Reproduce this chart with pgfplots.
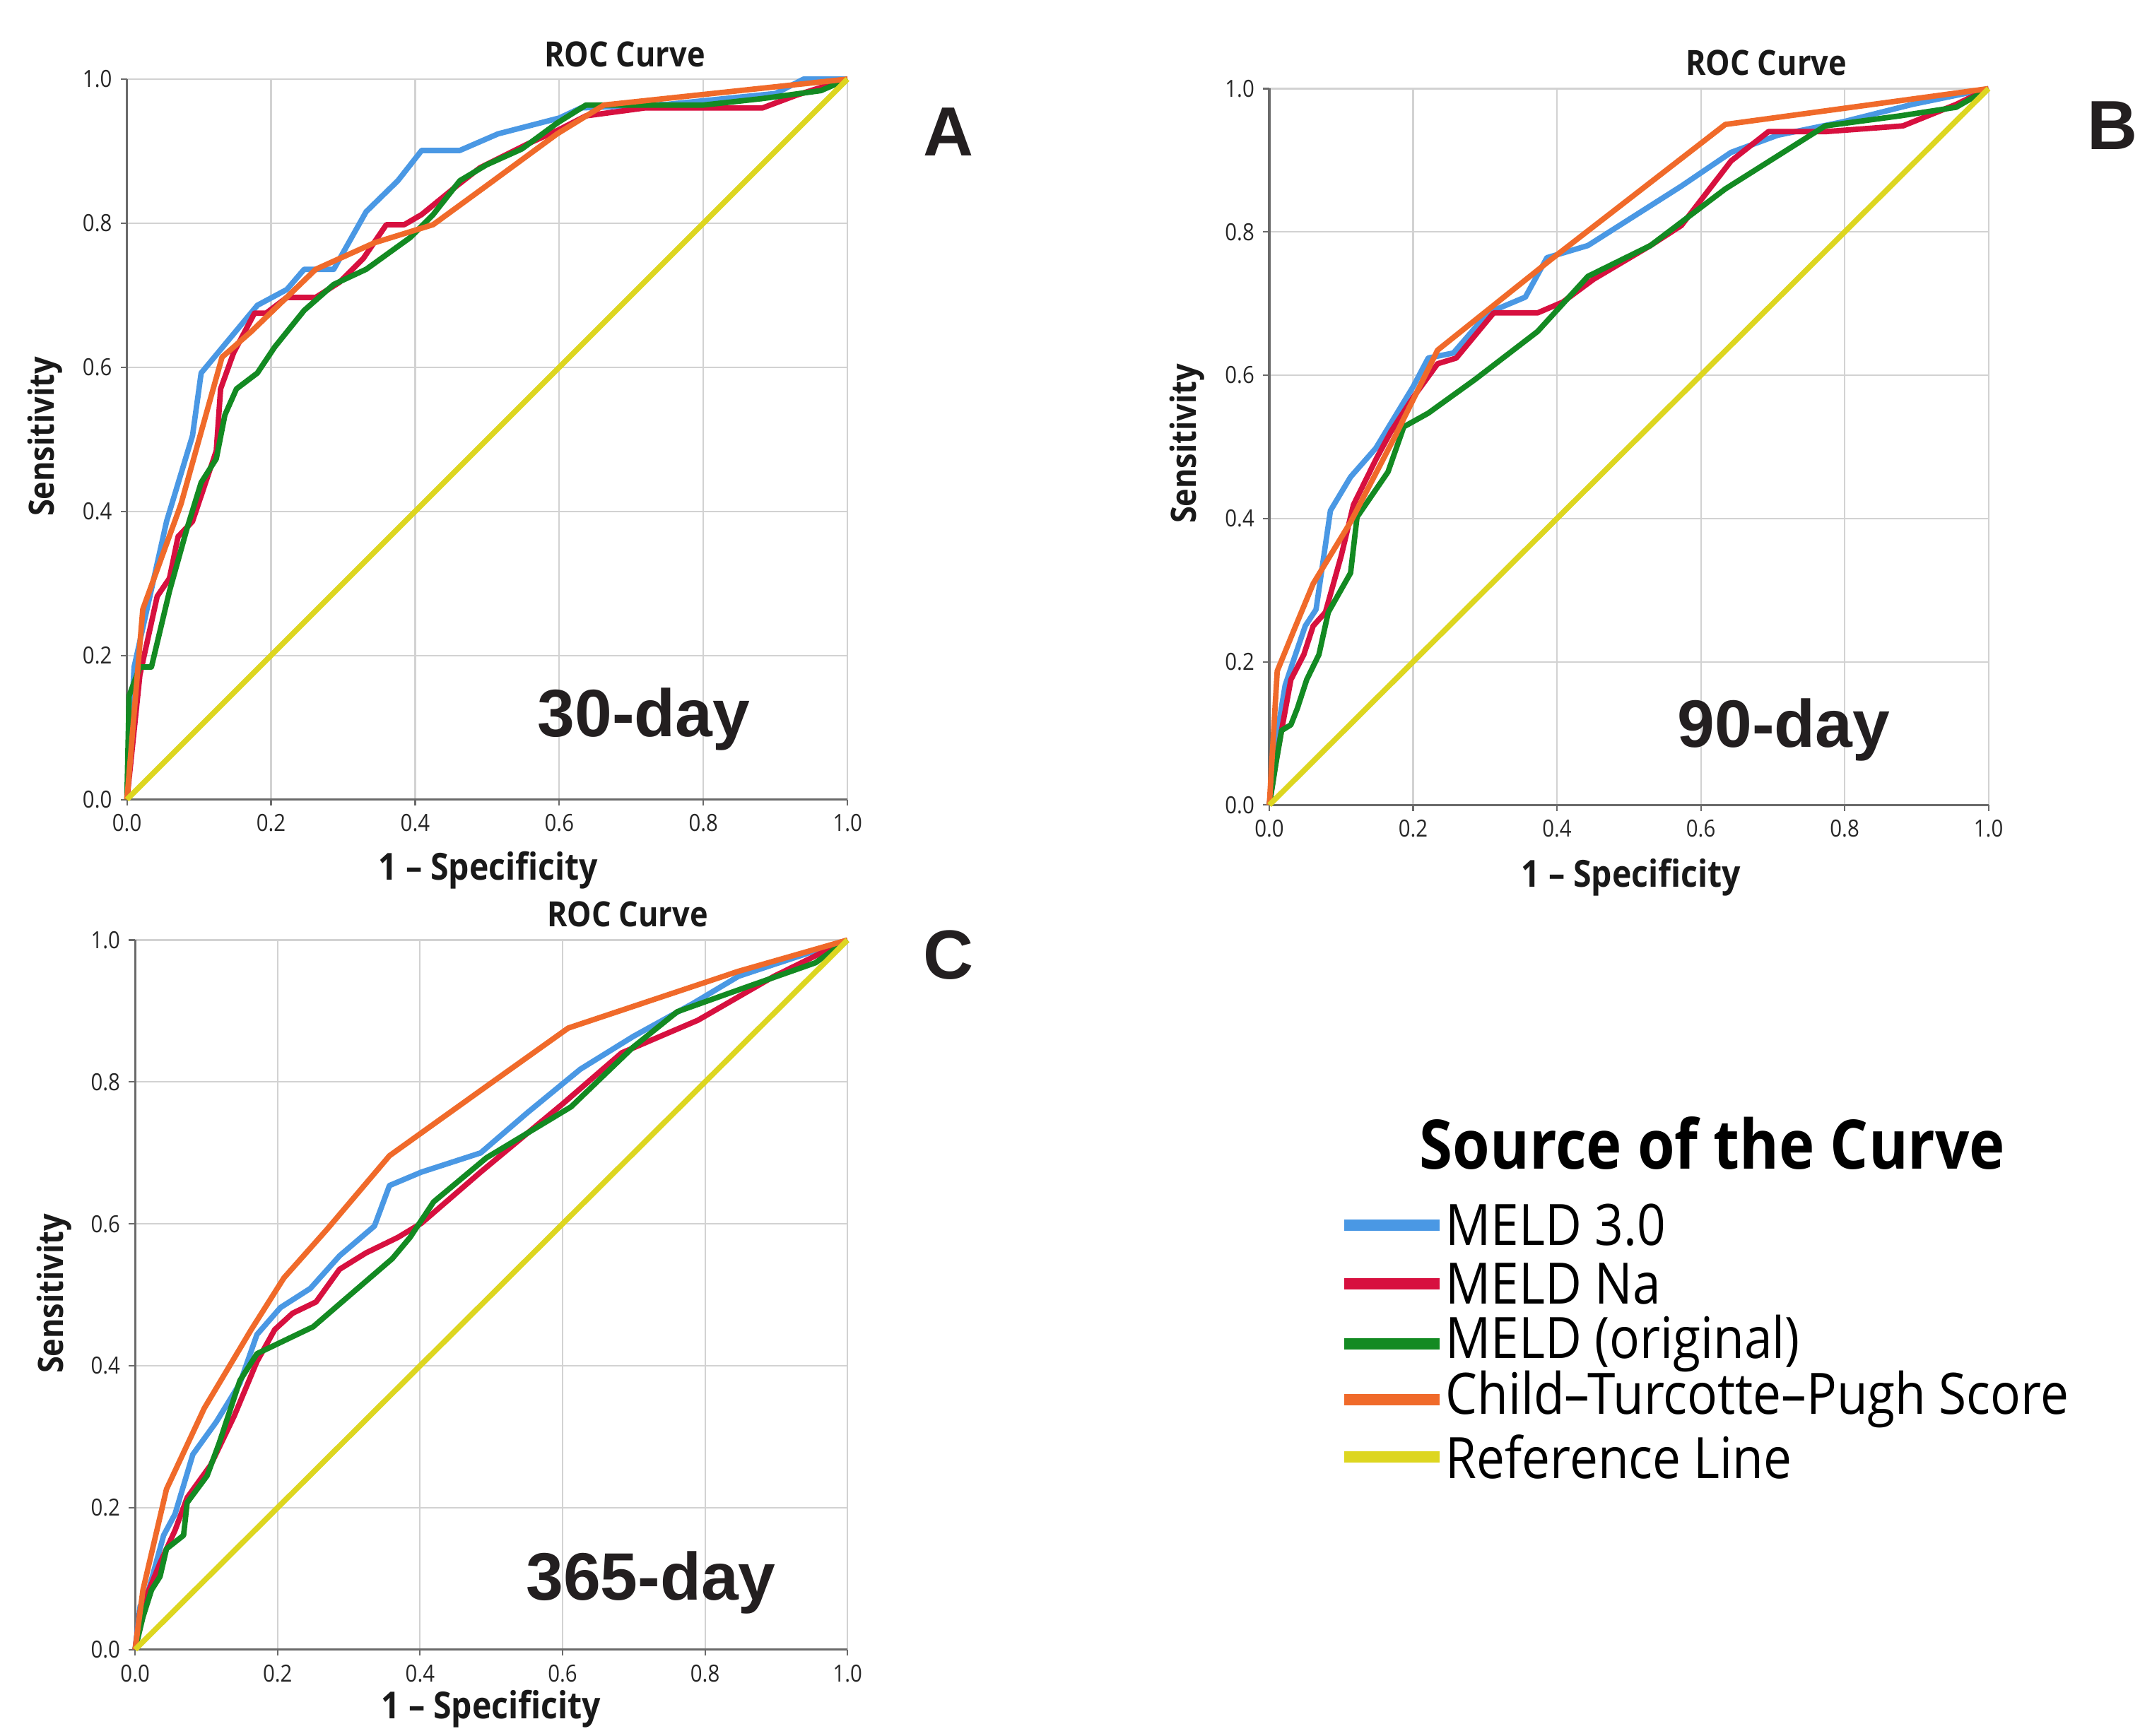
\documentclass[border=0pt]{standalone}
\usepackage{fontspec}
\setmainfont{Open Sans}
\newfontfamily\spss[FakeStretch=0.88]{Open Sans}
\newfontfamily\arialb{Liberation Sans}
\usepackage{pgfplots}
\pgfplotsset{compat=1.18}
\definecolor{cblue}{HTML}{4A98E4}
\definecolor{cred}{HTML}{D7103F}
\definecolor{cgreen}{HTML}{138A22}
\definecolor{corange}{HTML}{F06A2A}
\definecolor{cyellow}{HTML}{DDD620}
\definecolor{gridgray}{HTML}{D2D2D2}
\definecolor{axgray}{HTML}{6A6A6A}
\definecolor{txt}{HTML}{231F20}

\pgfplotsset{
  roc/.style={
    scale only axis, anchor=south west,
    xmin=0, xmax=1, ymin=0, ymax=1, enlargelimits=false, clip=false,
    axis lines=left, axis line style={-, axgray, line width=0.9pt},
    xtick={0,0.2,0.4,0.6,0.8,1}, ytick={0,0.2,0.4,0.6,0.8,1},
    xticklabels={0.0,0.2,0.4,0.6,0.8,1.0},
    yticklabels={0.0,0.2,0.4,0.6,0.8,1.0},
    grid=major, major grid style={gridgray, line width=0.6pt},
    tick style={axgray, line width=0.6pt}, major tick length=2.5pt, tick align=outside,
    tick label style={font=\spss\fontsize{9.5}{10}\selectfont, text=black!85},
    every axis plot/.append style={line width=2.2pt, line join=round, mark=none},
  },
}

\begin{document}
\begin{tikzpicture}
\useasboundingbox (0,0) rectangle (30.28cm,24.57cm);

% ---- A: 30-day
\begin{axis}[roc, at={(1.796cm,13.254cm)}, width=10.196cm, height=10.196cm]
\addplot[cblue] coordinates {(0,0)(0.01,0.184)(0.055,0.386)(0.091,0.505)(0.103,0.592)(0.181,0.686)(0.222,0.708)(0.246,0.736)(0.287,0.736)(0.332,0.816)(0.376,0.859)(0.409,0.901)(0.462,0.901)(0.515,0.924)(0.6,0.946)(0.63,0.96)(0.75,0.965)(0.9,0.98)(0.939,1)(1,1)};
\addplot[cred] coordinates {(0,0)(0.018,0.173)(0.042,0.282)(0.059,0.307)(0.071,0.365)(0.091,0.386)(0.124,0.484)(0.13,0.57)(0.148,0.62)(0.177,0.675)(0.193,0.675)(0.222,0.697)(0.262,0.697)(0.295,0.718)(0.328,0.751)(0.36,0.798)(0.385,0.798)(0.409,0.812)(0.458,0.852)(0.49,0.877)(0.556,0.91)(0.6,0.93)(0.637,0.949)(0.719,0.96)(0.882,0.96)(0.93,0.978)(1,1)};
\addplot[cgreen] coordinates {(0,0)(0.003,0.144)(0.018,0.184)(0.034,0.184)(0.059,0.289)(0.083,0.375)(0.103,0.44)(0.124,0.473)(0.136,0.534)(0.152,0.57)(0.181,0.592)(0.205,0.628)(0.246,0.679)(0.287,0.715)(0.332,0.736)(0.393,0.78)(0.425,0.812)(0.462,0.859)(0.499,0.881)(0.548,0.903)(0.597,0.939)(0.637,0.964)(0.8,0.964)(0.882,0.973)(0.963,0.984)(1,1)};
\addplot[corange] coordinates {(0,0)(0.022,0.264)(0.075,0.41)(0.132,0.614)(0.173,0.65)(0.262,0.736)(0.344,0.773)(0.425,0.798)(0.499,0.852)(0.597,0.924)(0.662,0.964)(1,1)};
\addplot[cyellow] coordinates {(0,0)(1,1)};
\end{axis}

% ---- B: 90-day
\begin{axis}[roc, at={(17.96cm,13.176cm)}, width=10.176cm, height=10.139cm]
\addplot[cblue] coordinates {(0,0)(0.009,0.088)(0.022,0.167)(0.035,0.206)(0.05,0.25)(0.065,0.273)(0.085,0.411)(0.113,0.458)(0.148,0.498)(0.2,0.584)(0.221,0.624)(0.256,0.631)(0.304,0.687)(0.356,0.709)(0.386,0.764)(0.443,0.781)(0.573,0.864)(0.642,0.911)(0.707,0.935)(0.799,0.954)(0.894,0.978)(1,1)};
\addplot[cred] coordinates {(0,0)(0.01,0.065)(0.017,0.104)(0.03,0.175)(0.048,0.21)(0.061,0.25)(0.078,0.269)(0.1,0.348)(0.117,0.419)(0.148,0.482)(0.169,0.521)(0.2,0.569)(0.234,0.616)(0.26,0.624)(0.312,0.687)(0.343,0.687)(0.373,0.687)(0.408,0.702)(0.451,0.734)(0.53,0.781)(0.573,0.809)(0.642,0.899)(0.694,0.94)(0.773,0.94)(0.881,0.948)(0.955,0.978)(1,1)};
\addplot[cgreen] coordinates {(0,0)(0.009,0.057)(0.017,0.104)(0.03,0.112)(0.039,0.135)(0.052,0.175)(0.069,0.21)(0.082,0.269)(0.113,0.324)(0.122,0.402)(0.165,0.465)(0.187,0.528)(0.221,0.547)(0.286,0.594)(0.373,0.661)(0.443,0.738)(0.53,0.781)(0.634,0.86)(0.773,0.948)(0.877,0.962)(0.955,0.974)(1,1)};
\addplot[corange] coordinates {(0,0)(0.011,0.187)(0.035,0.246)(0.061,0.309)(0.113,0.395)(0.174,0.513)(0.234,0.635)(0.391,0.761)(0.634,0.95)(1,1)};
\addplot[cyellow] coordinates {(0,0)(1,1)};
\end{axis}

% ---- C: 365-day
\begin{axis}[roc, at={(1.912cm,1.223cm)}, width=10.08cm, height=10.042cm]
\addplot[cblue] coordinates {(0,0)(0.007,0.061)(0.019,0.084)(0.04,0.161)(0.056,0.191)(0.081,0.275)(0.114,0.321)(0.147,0.375)(0.171,0.444)(0.204,0.482)(0.246,0.509)(0.287,0.555)(0.336,0.597)(0.357,0.654)(0.402,0.673)(0.485,0.7)(0.551,0.757)(0.625,0.818)(0.699,0.864)(0.782,0.91)(0.847,0.949)(1,1)};
\addplot[cred] coordinates {(0,0)(0.007,0.054)(0.015,0.073)(0.035,0.122)(0.056,0.168)(0.073,0.214)(0.106,0.26)(0.139,0.329)(0.171,0.406)(0.196,0.451)(0.221,0.474)(0.254,0.49)(0.287,0.536)(0.324,0.559)(0.369,0.581)(0.402,0.601)(0.485,0.673)(0.6,0.769)(0.683,0.841)(0.79,0.887)(0.897,0.949)(1,1)};
\addplot[cgreen] coordinates {(0,0)(0.011,0.046)(0.023,0.084)(0.035,0.103)(0.044,0.142)(0.068,0.161)(0.073,0.207)(0.101,0.245)(0.118,0.291)(0.147,0.379)(0.171,0.417)(0.25,0.455)(0.295,0.494)(0.361,0.551)(0.386,0.581)(0.419,0.631)(0.493,0.693)(0.612,0.765)(0.699,0.849)(0.761,0.899)(0.856,0.933)(0.955,0.968)(1,1)};
\addplot[corange] coordinates {(0,0)(0.011,0.084)(0.044,0.226)(0.097,0.34)(0.163,0.451)(0.209,0.524)(0.27,0.593)(0.357,0.696)(0.485,0.788)(0.608,0.876)(0.847,0.956)(1,1)};
\addplot[cyellow] coordinates {(0,0)(1,1)};
\end{axis}

% ---- titles and labels
\tikzset{roct/.style={font=\spss\bfseries\fontsize{14}{14}\selectfont, text=black!90},
         big/.style={font=\arialb\bfseries\fontsize{27}{27}\selectfont, text=txt}}
\node[roct] at (8.84cm,23.80cm) {ROC Curve};
\node[roct] at (24.99cm,23.68cm) {ROC Curve};
\node[roct] at (8.88cm,11.63cm) {ROC Curve};
\node[roct, rotate=90] at (0.64cm,18.39cm) {Sensitivity};
\node[roct, rotate=90] at (16.80cm,18.29cm) {Sensitivity};
\node[roct, rotate=90] at (0.77cm,6.26cm) {Sensitivity};
\node[roct, font=\spss\bfseries\fontsize{15}{15}\selectfont] at (6.91cm,12.25cm) {1 – Specificity};
\node[roct, font=\spss\bfseries\fontsize{15}{15}\selectfont] at (23.08cm,12.15cm) {1 – Specificity};
\node[roct, font=\spss\bfseries\fontsize{15}{15}\selectfont] at (6.95cm,0.38cm) {1 – Specificity};
\node[big, font=\arialb\bfseries\fontsize{28}{28}\selectfont] at (13.42cm,22.70cm) {A};
\node[big, font=\arialb\bfseries\fontsize{28}{28}\selectfont] at (29.89cm,22.79cm) {B};
\node[big, font=\arialb\bfseries\fontsize{28}{28}\selectfont] at (13.42cm,11.05cm) {C};
\node[big] at (9.11cm,14.39cm) {30-day};
\node[big] at (25.24cm,14.24cm) {90-day};
\node[big] at (9.21cm,2.17cm) {365-day};

% ---- legend
\node[font=\spss\bfseries\fontsize{27.5}{27.5}\selectfont, text=black] at (24.23cm,8.39cm) {Source of the Curve};
\foreach \c/\t/\y in {cblue/MELD 3.0/7.23, cred/MELD Na/6.40, cgreen/MELD (original)/5.55,
                      corange/Child–Turcotte–Pugh Score/4.76, cyellow/Reference Line/3.95}{
  \draw[\c, line width=4.3pt] (19.02cm,\y cm) -- (20.37cm,\y cm);
  \node[anchor=west, inner sep=0pt, font=\spss\fontsize{23}{23}\selectfont, text=black] at (20.45cm,\y cm) {\t};
}
\end{tikzpicture}
\end{document}
